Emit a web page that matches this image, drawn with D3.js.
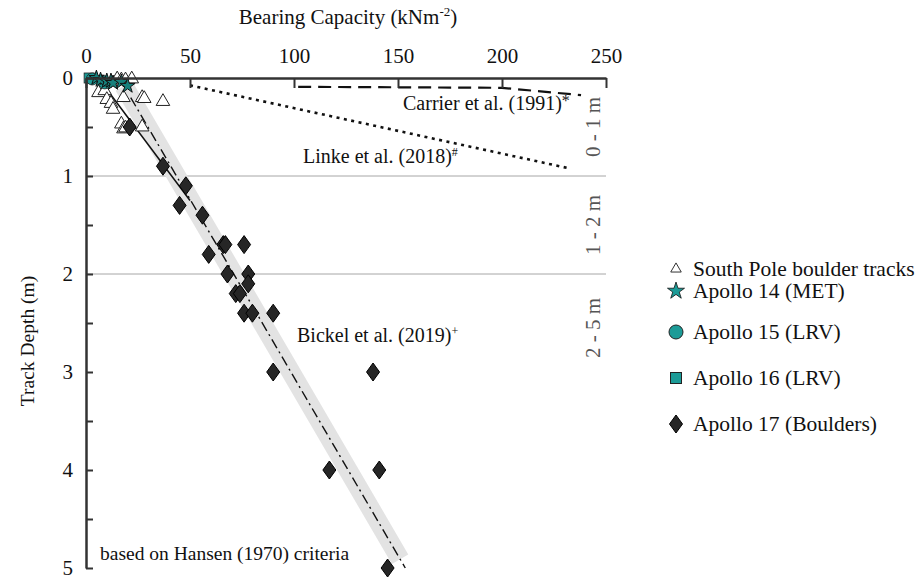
<!DOCTYPE html>
<html><head><meta charset="utf-8">
<script src="https://cdn.jsdelivr.net/npm/d3@7"></script>
<style>
body{margin:0;background:#fff}
text{font-family:"Liberation Serif","Times New Roman",serif}
</style>
</head><body>
<svg id="chart" width="919" height="583"></svg>
<script>
// Axis ticks
const xTicks = [0, 50, 100, 150, 200, 250];
const yTicks = [0, 0.5, 1, 1.5, 2, 2.5, 3, 3.5, 4, 4.5, 5];
const gridDepths = [1, 2];
const depthBands = [
  {label: "0 - 1 m", from: 0, to: 1},
  {label: "1 - 2 m", from: 1, to: 2},
  {label: "2 - 5 m", from: 2, to: 3.1}
];

// Observations: [bearing capacity kN/m², track depth m]
const southPole = [
  [6,0.15],[9,0.13],[10,0.22],[12,0.26],[13,0.32],[18,0.20],[27,0.20],[28,0.21],
  [37,0.24],[17,0.47],[18,0.52],[19,0.51],[27,0.50],[15,0.01],[17,0.02],[19,0.02],[22,0.01]
];
const apollo14 = [[5,0.0],[7,0.02],[10,0.03],[12,0.03],[13,0.05],[17,0.04],[20,0.08]];
const apollo15 = [[3,0.01],[8,0.03],[9,0.05]];
const apollo16 = [[1.5,0.0]];
const apollo17 = [
  [21,0.5],[37,0.9],[48,1.1],[45,1.3],[56,1.4],[59,1.8],[66,1.7],[67,1.7],[76,1.7],
  [68,2.0],[78,2.0],[78,2.1],[72,2.2],[74,2.2],[76,2.4],[80,2.4],[90,2.4],
  [90,3.0],[138,3.0],[117,4.0],[141,4.0],[145,5.0]
];

// Reference relations
const carrier = [[102,0.09],[200,0.10],[238,0.175]];
const linke = [[50,0.075],[233,0.925]];
const bickelBand = [[18.2,0.08],[151,4.91]];
const bickelLine = [[21.5,0.2],[153.5,5.0]];
const shallowFit = [[7,0.03],[50,1.25]];

const svg = d3.select("#chart");
const x = d3.scaleLinear().domain([0,250]).range([86,606]);
const y = d3.scaleLinear().domain([0,5]).range([78,568]);
const line = d3.line().x(d => x(d[0])).y(d => y(d[1]));

// horizontal guide lines at 1 m and 2 m
svg.append("g").selectAll("line").data(gridDepths).join("line")
  .attr("x1", x(0)).attr("x2", x(250))
  .attr("y1", d => y(d)).attr("y2", d => y(d))
  .attr("stroke", "#a6a6a6").attr("stroke-width", 1);

// uncertainty band
svg.append("path").attr("d", line(bickelBand))
  .attr("fill", "none").attr("stroke", "#e3e3e3").attr("stroke-width", 19);

svg.append("path").attr("d", line(bickelLine))
  .attr("fill", "none").attr("stroke", "#111").attr("stroke-width", 1.4)
  .attr("stroke-dasharray", "10,4,2,4");

svg.append("path").attr("d", line(shallowFit))
  .attr("fill", "none").attr("stroke", "#111").attr("stroke-width", 1.5);

svg.append("path").attr("d", line(carrier))
  .attr("fill", "none").attr("stroke", "#111").attr("stroke-width", 2.2)
  .attr("stroke-dasharray", "13,7");

svg.append("path").attr("d", line(linke))
  .attr("fill", "none").attr("stroke", "#111").attr("stroke-width", 2.6)
  .attr("stroke-dasharray", "3,4.5");

// markers
const teal = "#1c9b97";
const diamondPath = "M0,-9L6.5,0L0,9L-6.5,0Z";
const tri = d3.symbol().type(d3.symbolTriangle).size(80);
const triSmall = d3.symbol().type(d3.symbolTriangle).size(48);
const star = d3.symbol().type(d3.symbolStar).size(70);
const starLegend = d3.symbol().type(d3.symbolStar).size(90);

svg.append("g").selectAll("path").data(southPole).join("path")
  .attr("d", tri).attr("transform", d => `translate(${x(d[0])},${y(d[1])})`)
  .attr("fill", "#fff").attr("stroke", "#222").attr("stroke-width", 1);

svg.append("g").selectAll("path").data(apollo17).join("path")
  .attr("d", diamondPath).attr("transform", d => `translate(${x(d[0])},${y(d[1])})`)
  .attr("fill", "#262626").attr("stroke", "#000").attr("stroke-width", 1);

svg.append("g").selectAll("rect").data(apollo16).join("rect")
  .attr("x", d => x(d[0]) - 5).attr("y", d => y(d[1]) - 5)
  .attr("width", 10).attr("height", 10)
  .attr("fill", teal).attr("stroke", "#222").attr("stroke-width", 0.8);

svg.append("g").selectAll("circle").data(apollo15).join("circle")
  .attr("cx", d => x(d[0])).attr("cy", d => y(d[1])).attr("r", 6)
  .attr("fill", teal).attr("stroke", "#222").attr("stroke-width", 0.8);

svg.append("g").selectAll("path").data(apollo14).join("path")
  .attr("d", star).attr("transform", d => `translate(${x(d[0])},${y(d[1])})`)
  .attr("fill", "#17807c").attr("stroke", "#111").attr("stroke-width", 1);

// axes
const xAxis = d3.axisTop(x).tickValues(xTicks).tickSizeInner(-10).tickSizeOuter(0).tickPadding(15);
const gx = svg.append("g").attr("transform", `translate(0,${y(0)})`).call(xAxis);
gx.select(".domain").attr("stroke", "#333").attr("stroke-width", 2.5);
gx.selectAll(".tick line").attr("stroke", "#333").attr("stroke-width", 2);
gx.selectAll(".tick text").attr("font-size", 21).attr("fill", "#111");

const yAxis = d3.axisLeft(y).tickValues(yTicks).tickSizeInner(-7).tickSizeOuter(0).tickPadding(13)
  .tickFormat(d => Number.isInteger(d) ? d : "");
const gy = svg.append("g").attr("transform", `translate(${x(0)},0)`).call(yAxis);
gy.select(".domain").attr("stroke", "#333").attr("stroke-width", 2.5);
gy.selectAll(".tick line").attr("stroke", "#333").attr("stroke-width", 2);
gy.selectAll(".tick text").attr("font-size", 21).attr("fill", "#111");

// axis titles
const xt = svg.append("text").attr("x", 348).attr("y", 24).attr("text-anchor", "middle")
  .attr("font-size", 21).attr("fill", "#111");
xt.append("tspan").text("Bearing Capacity (kNm");
xt.append("tspan").attr("font-size", 13).attr("dy", -8).text("-2");
xt.append("tspan").attr("dy", 8).text(")");

svg.append("text").attr("transform", `translate(34,341) rotate(-90)`)
  .attr("text-anchor", "middle").attr("font-size", 19.5).attr("fill", "#111")
  .text("Track Depth (m)");

// depth range labels
svg.append("g").selectAll("text").data(depthBands).join("text")
  .attr("transform", d => `translate(600,${(y(d.from) + y(d.to)) / 2}) rotate(-90)`)
  .attr("text-anchor", "middle").attr("font-size", 21).attr("fill", "#555")
  .text(d => d.label);

// relation labels
function label(tx, ty, main, sup, size, supSize, lift) {
  const t = svg.append("text").attr("x", tx).attr("y", ty).attr("font-size", size).attr("fill", "#111");
  t.append("tspan").text(main);
  if (sup) t.append("tspan").attr("font-size", supSize).attr("dy", -lift).text(sup);
}
label(403, 110, "Carrier et al. (1991)", "*", 20, 16, 4);
label(303, 163, "Linke et al. (2018)", "#", 20, 12, 7);
label(297, 342, "Bickel et al. (2019)", "+", 20, 12, 7);
label(100, 560, "based on Hansen (1970) criteria", null, 19.5);

// legend
const legend = [
  {name: "South Pole boulder tracks", kind: "tri", y: 269},
  {name: "Apollo 14 (MET)", kind: "star", y: 291},
  {name: "Apollo 15 (LRV)", kind: "circle", y: 332},
  {name: "Apollo 16 (LRV)", kind: "square", y: 378},
  {name: "Apollo 17 (Boulders)", kind: "diamond", y: 424}
];
const lg = svg.append("g");
legend.forEach(it => {
  const g = lg.append("g").attr("transform", `translate(676,${it.y})`);
  if (it.kind === "tri") g.append("path").attr("d", triSmall).attr("fill", "#fff").attr("stroke", "#333");
  if (it.kind === "star") g.append("path").attr("d", starLegend).attr("fill", teal).attr("stroke", "#111").attr("stroke-width", 0.8);
  if (it.kind === "circle") g.append("circle").attr("r", 7).attr("fill", teal).attr("stroke", "#222");
  if (it.kind === "square") g.append("rect").attr("x", -5.5).attr("y", -5.5).attr("width", 11).attr("height", 11).attr("fill", teal).attr("stroke", "#222");
  if (it.kind === "diamond") g.append("path").attr("d", diamondPath).attr("fill", "#262626").attr("stroke", "#000");
  g.append("text").attr("x", 17).attr("dy", "0.34em").attr("font-size", 21.5).attr("fill", "#111").text(it.name);
});
</script>
</body></html>
